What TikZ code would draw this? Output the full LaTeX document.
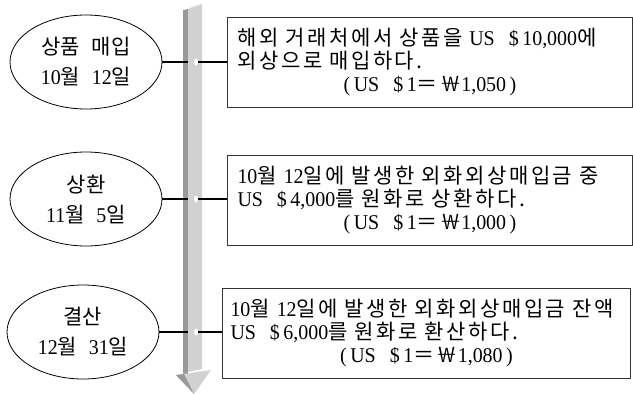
\documentclass[tikz,border=0pt]{standalone}
\usepackage{fontspec}
\setmainfont[FakeStretch=0.95]{Liberation Serif}
\newfontfamily\kr[LetterSpace=12,WordSpace=2.5]{Noto Sans CJK KR}
\newfontfamily\krtight[WordSpace=2.5]{Noto Sans CJK KR}
\newcommand\hg[1]{{\kr #1}}
\newcommand\hgt[1]{{\krtight #1}}
\newcommand\rate[1]{\makebox[\linewidth]{(\,US\hspace{14pt}\$\,1\hg{＝￦}#1\,)}}
\usetikzlibrary{shapes.geometric}
\definecolor{barface}{gray}{0.82}
\definecolor{barside}{gray}{0.60}
\definecolor{bartop}{gray}{0.90}
\begin{document}
\begin{tikzpicture}[x=1pt,y=-1pt,line join=round,font=\fontsize{21}{23}\selectfont,
	event/.style={ellipse,draw,line width=0.8pt,minimum width=152pt,minimum height=94pt,inner sep=0pt,align=center,font=\fontsize{21}{30}\selectfont},
	memo/.style={draw=black!80,line width=1pt,text width=385pt,inner xsep=10pt,minimum height=90pt,align=left,anchor=north west},
	hole/.style={ellipse,fill=white,minimum width=4pt,minimum height=7pt,inner sep=0pt},
	link/.style={line width=1.4pt}]
	\useasboundingbox (0,0) rectangle (633,394);
	% time bar
	\fill[barside] (183,10)--(188,9)--(188,374)--(183,375)--cycle;
	\fill[barface] (188,9)--(202,4)--(202,369)--(188,372)--cycle;
	\fill[bartop] (188,9)--(193,6)--(202,4)--(198,6)--cycle;
	\fill[barface] (176,375)--(211,370)--(194,394)--cycle;
	\fill[barside] (176,375)--(184,374)--(194,394)--cycle;
	% events
	\node[event] (buy) at (86,62) {\hgt{상품 매입}\\10\hgt{월 }12\hgt{일}};
	\node[event] (pay) at (86,199) {\hgt{상환}\\11\hgt{월 }5\hgt{일}};
	\node[event] (adj) at (83,332) {\hgt{결산}\\12\hgt{월 }31\hgt{일}};
	\node[memo] (buymemo) at (227,17) {\hg{해외 거래처에서 상품을 }US\hspace{14pt}\$\,10,000\hg{에}\\
		\hg{외상으로 매입하다.}\\
		\rate{1,050}};
	\node[memo] (paymemo) at (227,155) {10\hg{월 }12\hg{일에 발생한 외화외상매입금 중}\\
		US\hspace{14pt}\$\,4,000\hg{를 원화로 상환하다.}\\
		\rate{1,000}};
	\node[memo,text width=392pt,inner xsep=8pt] (adjmemo) at (222,288) {10\hg{월 }12\hg{일에 발생한 외화외상매입금 잔액}\\
		US\hspace{14pt}\$\,6,000\hg{를 원화로 환산하다.}\\
		\rate{1,080}};
	% connectors
	\foreach \e/\y in {buy/62,pay/199,adj/332}{
		\coordinate (\e-in) at (188,\y);
		\node[hole] (\e-hole) at (196,\y) {};
		\draw[link] (\e) -- (\e-in);
		\draw[link] (\e-hole.east) -- (\e-hole.east -| \e memo.west);
	}
\end{tikzpicture}
\end{document}
